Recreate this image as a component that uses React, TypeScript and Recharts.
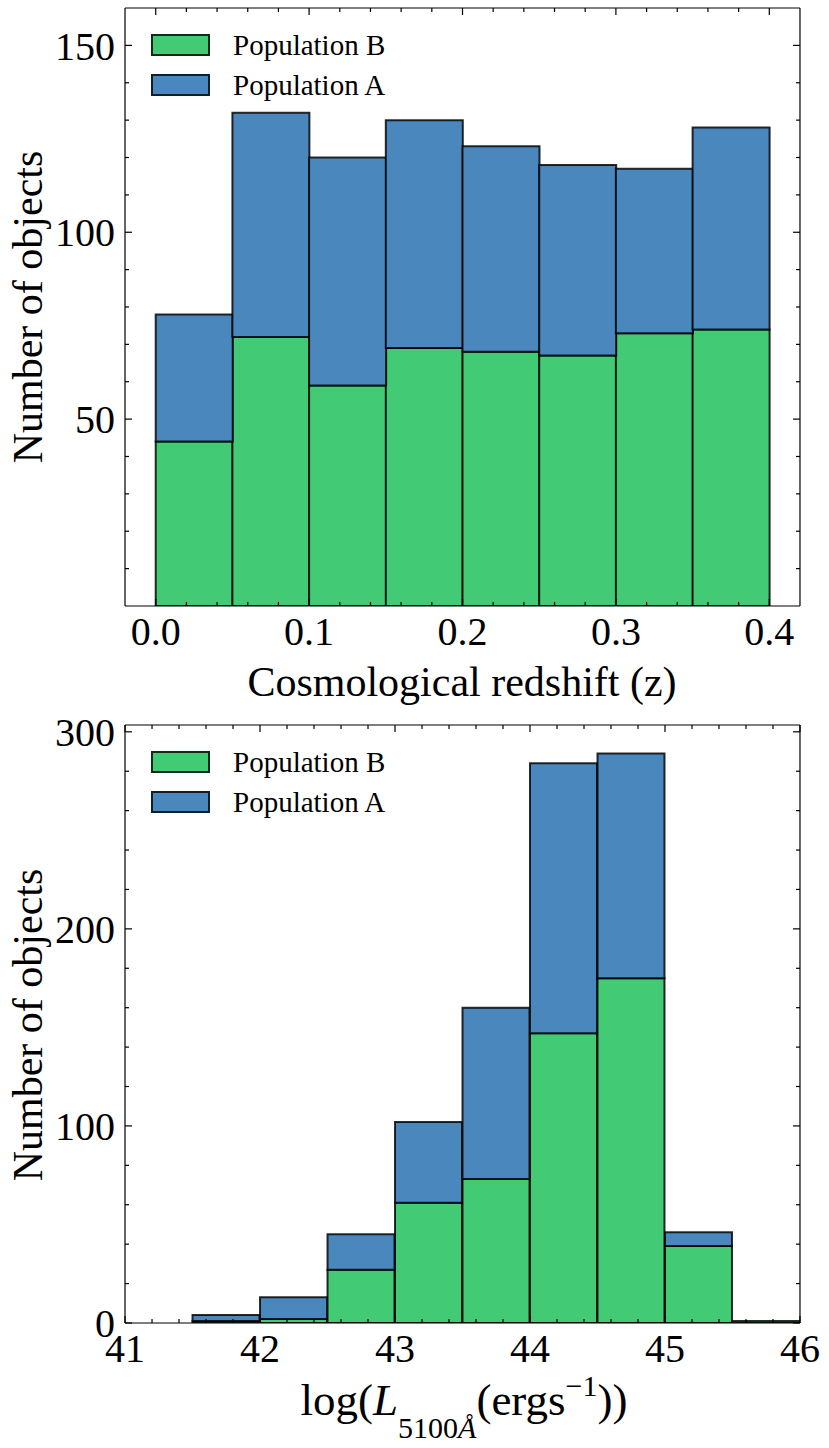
import React from 'react';
import { BarChart, Bar, XAxis, YAxis, Legend, Label } from 'recharts';

// redshift histogram (bin centres, width 0.05)
const zBins = [0.025, 0.075, 0.125, 0.175, 0.225, 0.275, 0.325, 0.375];
const zPopB = [44, 72, 59, 69, 68, 67, 73, 74];
const zPopA = [34, 60, 61, 61, 55, 51, 44, 54];

// luminosity histogram (bin centres, width 0.5)
const lBins = [41.25, 41.75, 42.25, 42.75, 43.25, 43.75, 44.25, 44.75, 45.25, 45.75];
const lPopB = [0, 1, 2, 27, 61, 73, 147, 175, 39, 1];
const lPopA = [0, 3, 11, 18, 41, 87, 137, 114, 7, 0];

const zMajor = [0, 0.1, 0.2, 0.3, 0.4];
const zMinor = [0.02, 0.04, 0.06, 0.08, 0.12, 0.14, 0.16, 0.18, 0.22, 0.24, 0.26, 0.28, 0.32, 0.34, 0.36, 0.38];
const zYMajor = [50, 100, 150];
const zYMinor = [10, 20, 30, 40, 60, 70, 80, 90, 110, 120, 130, 140];

const lMajor = [41, 42, 43, 44, 45, 46];
const lMinor = [41.2, 41.4, 41.6, 41.8, 42.2, 42.4, 42.6, 42.8, 43.2, 43.4, 43.6, 43.8, 44.2, 44.4, 44.6, 44.8, 45.2, 45.4, 45.6, 45.8];
const lYMajor = [0, 100, 200, 300];
const lYMinor = [20, 40, 60, 80, 120, 140, 160, 180, 220, 240, 260, 280];

const GREEN = '#42cb74';
const BLUE = '#4a87bd';
const FONT = 'Liberation Serif, DejaVu Serif, serif';

const zData = zBins.map((x, i) => ({ x, b: zPopB[i], a: zPopA[i] }));
const lData = lBins.map((x, i) => ({ x, b: lPopB[i], a: lPopA[i] }));

const tickStyle = { fontFamily: FONT, fontSize: 40, fill: '#000' };
const lineStyle = { stroke: '#000', strokeWidth: 1.2 };

// inward tick mark, drawn at the coordinate recharts hands to the tick renderer
const mark = (side: string, len: number) => (p: any) => {
  const { x, y } = p;
  const d = side === 'bottom' ? [x, y, x, y - len] : side === 'top' ? [x, y, x, y + len]
    : side === 'left' ? [x, y, x + len, y] : [x, y, x - len, y];
  return <line x1={d[0]} y1={d[1]} x2={d[2]} y2={d[3]} stroke="#000" strokeWidth={1.2} />;
};

function LegendBox({ payload }: any) {
  const items = [...(payload || [])].reverse();
  return (
    <div style={{ fontFamily: FONT, fontSize: 29 }}>
      {items.map((p: any) => (
        <div key={p.value} style={{ display: 'flex', alignItems: 'center', height: 40 }}>
          <div style={{ width: 55, height: 18, background: p.color, border: '2px solid rgba(0,0,0,0.78)', marginRight: 23 }} />
          <span>{p.value}</span>
        </div>
      ))}
    </div>
  );
}

function YLabel({ cy }: { cy: number }) {
  return (
    <text x={42} y={cy} transform={`rotate(-90, 42, ${cy})`} textAnchor="middle"
      fontFamily={FONT} fontSize={42} fill="#000">Number of objects</text>
  );
}

function axes(xDomain: number[], yDomain: number[], xMajor: number[], xMinor: number[], yMajor: number[], yMinor: number[],
  ylabelY: number, xlabel: React.ReactNode, xFmt?: (v: number) => string) {
  const common = { type: 'number' as const, allowDataOverflow: true, interval: 0 as const };
  const tickOnly = { ...common, tickSize: 0, tickMargin: 0, tickLine: false };
  return [
    <XAxis key="xb" xAxisId="main" dataKey="x" domain={xDomain} ticks={xMajor} {...common} tickFormatter={xFmt}
      height={0.01} tickSize={0} tickMargin={11} tick={tickStyle} tickLine={false} axisLine={lineStyle}>
      <Label content={() => xlabel} />
    </XAxis>,
    <XAxis key="xbM" xAxisId="bM" dataKey="x" domain={xDomain} ticks={xMajor} {...tickOnly} height={0.01} tick={mark('bottom', 7)} axisLine={false} />,
    <XAxis key="xbm" xAxisId="bm" dataKey="x" domain={xDomain} ticks={xMinor} {...tickOnly} height={0.01} tick={mark('bottom', 4)} axisLine={false} />,
    <XAxis key="xtM" xAxisId="tM" orientation="top" dataKey="x" domain={xDomain} ticks={xMajor} {...tickOnly} height={0.01} tick={mark('top', 7)} axisLine={lineStyle} />,
    <XAxis key="xtm" xAxisId="tm" orientation="top" dataKey="x" domain={xDomain} ticks={xMinor} {...tickOnly} height={0.01} tick={mark('top', 4)} axisLine={false} />,
    <YAxis key="yl" yAxisId="main" domain={yDomain} ticks={yMajor} {...common}
      width={0.01} tickSize={0} tickMargin={10} tick={tickStyle} tickLine={false} axisLine={lineStyle}>
      <Label content={() => <YLabel cy={ylabelY} />} />
    </YAxis>,
    <YAxis key="ylM" yAxisId="lM" domain={yDomain} ticks={yMajor} {...tickOnly} width={0.01} tick={mark('left', 7)} axisLine={false} />,
    <YAxis key="ylm" yAxisId="lm" domain={yDomain} ticks={yMinor} {...tickOnly} width={0.01} tick={mark('left', 4)} axisLine={false} />,
    <YAxis key="yrM" yAxisId="rM" orientation="right" domain={yDomain} ticks={yMajor} {...tickOnly} width={0.01} tick={mark('right', 7)} axisLine={lineStyle} />,
    <YAxis key="yrm" yAxisId="rm" orientation="right" domain={yDomain} ticks={yMinor} {...tickOnly} width={0.01} tick={mark('right', 4)} axisLine={false} />,
  ];
}

const barProps = { xAxisId: 'main', yAxisId: 'main', stackId: 's', isAnimationActive: false, stroke: '#000', strokeOpacity: 0.82, strokeWidth: 2 };

export default function App() {
  const zLabel = (
    <text x={462} y={696} textAnchor="middle" fontFamily={FONT} fontSize={42} fill="#000">Cosmological redshift (z)</text>
  );
  // second chart starts at y=690 on the page
  const lLabel = (
    <text x={464} y={725} textAnchor="middle" fontFamily={FONT} fontSize={45} fill="#000">
      log(<tspan fontStyle="italic">L</tspan>
      <tspan fontSize={30} dy={23}>5100</tspan>
      <tspan fontSize={30} fontStyle="italic">Å</tspan>
      <tspan dy={-23}>(ergs</tspan>
      <tspan fontSize={30} dy={-19}>−1</tspan>
      <tspan dy={19}>))</tspan>
    </text>
  );
  return (
    <div style={{ position: 'absolute', left: 0, top: 0, width: 829, height: 1448, background: '#fff' }}>
      <div style={{ position: 'absolute', left: 0, top: 0 }}>
        <BarChart width={829} height={712} data={zData} barCategoryGap={0} barGap={0}
          margin={{ top: 8, right: 29, bottom: 106, left: 125 }}>
          {axes([-0.02, 0.42], [0, 160], zMajor, zMinor, zYMajor, zYMinor, 307, zLabel, (v: number) => v.toFixed(1))}
          <Bar dataKey="b" name="Population B" fill={GREEN} {...barProps} />
          <Bar dataKey="a" name="Population A" fill={BLUE} {...barProps} />
          <Legend layout="vertical" align="center" verticalAlign="middle" content={LegendBox}
            wrapperStyle={{ left: 151, top: 25, width: 300 }} />
        </BarChart>
      </div>
      <div style={{ position: 'absolute', left: 0, top: 690 }}>
        <BarChart width={829} height={758} data={lData} barCategoryGap={0} barGap={0}
          margin={{ top: 35, right: 29, bottom: 125, left: 125 }}>
          {axes([41, 46], [0, 303.45], lMajor, lMinor, lYMajor, lYMinor, 335, lLabel)}
          <Bar dataKey="b" name="Population B" fill={GREEN} {...barProps} />
          <Bar dataKey="a" name="Population A" fill={BLUE} {...barProps} />
          <Legend layout="vertical" align="center" verticalAlign="middle" content={LegendBox}
            wrapperStyle={{ left: 151, top: 52, width: 300 }} />
        </BarChart>
      </div>
    </div>
  );
}
